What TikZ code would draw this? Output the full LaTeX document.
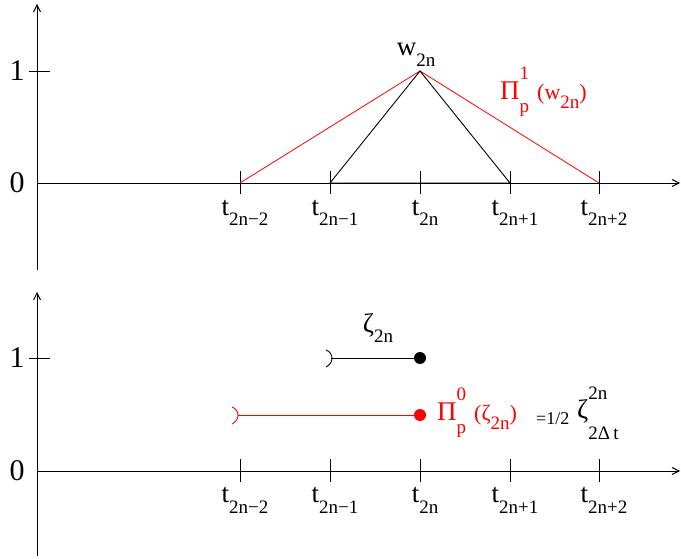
\documentclass[tikz,border=0pt]{standalone}
\usepackage{fontspec}
\setmainfont{Liberation Serif}
\usetikzlibrary{
	positioning,
	arrows.meta
}
\newcommand{\smallfont}[1]{{\fontsize{19}{19}\selectfont #1}}
\newcommand{\subs}[1]{\raisebox{-0.4em}{\smallfont{#1}}}
\newcommand{\supsub}[2]{\makebox[0pt][l]{\raisebox{0.72em}{\smallfont{#1}}}\raisebox{-0.5em}{\smallfont{#2}}}
\newcommand{\supsubdeep}[2]{\makebox[0pt][l]{\raisebox{0.72em}{\smallfont{#1}}}\raisebox{-0.75em}{\smallfont{#2}}}

\begin{document}
\begin{tikzpicture}[
				x=1pt, y=-1pt,
				axis/.style={
					line width=0.9pt,
					-{Straight Barb[length=7pt,width=7pt]}
				},
				tick/.style={
					line width=0.9pt
				},
				label/.style={
					inner sep=0pt,
					font=\fontsize{30}{30}\selectfont
				},
				tlabel/.style={
					inner sep=0pt,
					font=\fontsize{27}{27}\selectfont
				},
				dot/.style={
					circle,
					fill,
					inner sep=0pt,
					minimum size=12pt
				}
				]
				\useasboundingbox (0,0) rectangle (681,559);
				
				% upper plot
				\coordinate (o1) at (37,183);
				\draw[axis] (37,270) -- (37,4);
				\draw[axis] (o1) -- (680,183);
				\draw[tick] (29,71) -- (50,71);
				\node[label] (one1) at (17,71) {1};
				\node[label] (zero1) at (17,183) {0};
				
				\coordinate (a1) at (240,183);
				\coordinate (b1) at (330,183);
				\coordinate (c1) at (420,183);
				\coordinate (d1) at (510,183);
				\coordinate (e1) at (599,183);
				\coordinate (top) at (420,71);
				
				\foreach \p in {a1,b1,c1,d1,e1}
					\draw[tick] ([yshift=-11pt]\p) -- ([yshift=12pt]\p);
				
				\node[tlabel] (ta1) at (245,213) {t\subs{2n−2}};
				\node[tlabel] (tb1) at (335,213) {t\subs{2n−1}};
				\node[tlabel] (tc1) at (425,213) {t\subs{2n}};
				\node[tlabel] (td1) at (515,213) {t\subs{2n+1}};
				\node[tlabel] (te1) at (604,213) {t\subs{2n+2}};
				
				\draw[red, line width=0.8pt] (a1) -- (top) -- (e1);
				\draw[line width=0.9pt] (b1) -- (top) -- (d1) -- cycle;
				
				\node[tlabel] (w) at (416,55) {w\subs{2n}};
				\node[tlabel, red, anchor=west] (piw) at (500,92)
					{Π\supsub{1}{p}\hspace{8pt}\fontsize{22}{22}\selectfont(w\subs{2n})};
				
				% lower plot
				\coordinate (o2) at (37,471);
				\draw[axis] (37,556) -- (37,292);
				\draw[axis] (o2) -- (680,471);
				\draw[tick] (29,358) -- (50,358);
				\node[label] (one2) at (17,358) {1};
				\node[label] (zero2) at (17,471) {0};
				
				\coordinate (a2) at (240,471);
				\coordinate (b2) at (330,471);
				\coordinate (c2) at (420,471);
				\coordinate (d2) at (510,471);
				\coordinate (e2) at (599,471);
				
				\foreach \p in {a2,b2,c2,d2,e2}
					\draw[tick] ([yshift=-11pt]\p) -- ([yshift=12pt]\p);
				
				\node[tlabel] (ta2) at (245,500) {t\subs{2n−2}};
				\node[tlabel] (tb2) at (335,500) {t\subs{2n−1}};
				\node[tlabel] (tc2) at (425,500) {t\subs{2n}};
				\node[tlabel] (td2) at (515,500) {t\subs{2n+1}};
				\node[tlabel] (te2) at (604,500) {t\subs{2n+2}};
				
				\coordinate (zl) at (331,358);
				\node[dot] (zr) at (420,358) {};
				\draw[line width=0.9pt] (zl) -- (zr);
				\draw[line width=0.9pt] (326,350) .. controls (334,353) and (334,363) .. (326,367);
				\node[tlabel] (zeta) at (378,328) {ζ\subs{2n}};
				
				\coordinate (pl) at (238,415);
				\node[dot, red] (pr) at (420,415) {};
				\draw[red, line width=0.8pt] (pl) -- (pr);
				\draw[red, line width=0.9pt] (232,407) .. controls (240,410) and (240,420) .. (232,424);
				\node[tlabel, red, anchor=west] (piz) at (437,413)
					{Π\supsub{0}{p}\hspace{8pt}\fontsize{22}{22}\selectfont(ζ\subs{2n})};
				\node[anchor=west, inner sep=0pt] (half) at (536,419)
					{\fontsize{18}{18}\selectfont =1/2};
				\node[tlabel, anchor=west] (zd) at (577,413)
					{ζ\supsubdeep{2n}{2Δ\,t}};
				
			\end{tikzpicture}
\end{document}
